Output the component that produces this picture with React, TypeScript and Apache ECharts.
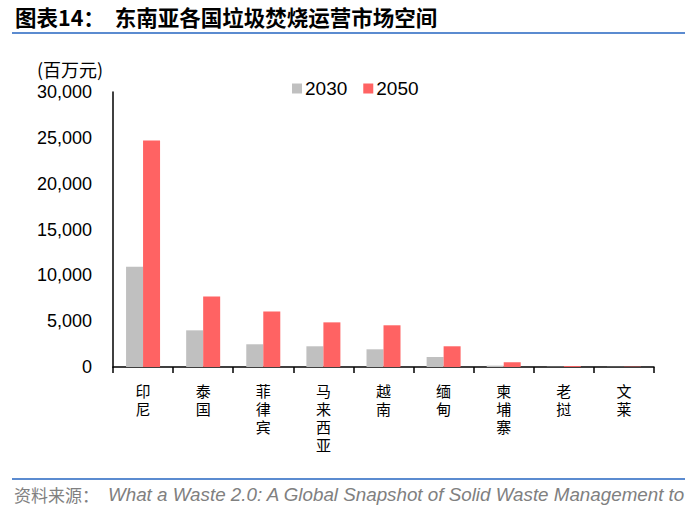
import React, { useEffect, useRef } from "react";
import * as echarts from "echarts";

const categories = ["印尼", "泰国", "菲律宾", "马来西亚", "越南", "缅甸", "柬埔寨", "老挝", "文莱"];
const series2030 = [10950, 4000, 2480, 2260, 1930, 1090, 150, 30, 20];
const series2050 = [24700, 7700, 6050, 4870, 4550, 2260, 510, 100, 40];
const yTicks = { min: 0, max: 30000, interval: 5000 };
const titleText = "图表14：  东南亚各国垃圾焚烧运营市场空间";
const unitText = "(百万元)";
const sourceLabel = "资料来源：";
const sourceText = "What a Waste 2.0: A Global Snapshot of Solid Waste Management to";

export default function App() {
  const ref = useRef<HTMLDivElement>(null);
  useEffect(() => {
    if (!ref.current) return;
    const chart = echarts.init(ref.current, undefined, { renderer: "svg" });
    const cjk = "'Noto Sans CJK SC', sans-serif";
    const latin = "'Liberation Sans', Arial, sans-serif";
    chart.setOption({
      animation: false,
      backgroundColor: "#ffffff",
      grid: { left: 113, right: 46, top: 92, bottom: 147, containLabel: false },
      legend: {
        left: 287,
        top: 74,
        itemWidth: 10,
        itemHeight: 10,
        itemGap: 16,
        icon: "rect",
        textStyle: { fontSize: 19, color: "#000", fontFamily: latin, padding: [0, 0, 0, -2] },
        data: ["2030", "2050"],
      },
      xAxis: {
        type: "category",
        data: categories,
        axisLine: { lineStyle: { color: "#000", width: 1.5 } },
        axisTick: { show: true, length: 6, alignWithLabel: false, lineStyle: { color: "#000", width: 1.5 } },
        axisLabel: {
          fontSize: 15,
          lineHeight: 18,
          color: "#000",
          fontFamily: cjk,
          margin: 14,
          verticalAlign: "top",
          interval: 0,
          formatter: (v: string) => v.split("").join("\n"),
        },
      },
      yAxis: {
        type: "value",
        min: yTicks.min,
        max: yTicks.max,
        interval: yTicks.interval,
        splitLine: { show: false },
        axisLine: { show: true, lineStyle: { color: "#000", width: 1.5 } },
        axisTick: { show: false },
        axisLabel: {
          fontSize: 18,
          color: "#000",
          fontFamily: latin,
          margin: 21,
          formatter: (v: number) => v.toLocaleString("en-US"),
        },
      },
      series: [
        {
          name: "2030",
          type: "bar",
          data: series2030,
          barWidth: 17,
          barGap: "0%",
          itemStyle: { color: "#c0c0c0" },
        },
        {
          name: "2050",
          type: "bar",
          data: series2050,
          barWidth: 17,
          barGap: "0%",
          itemStyle: { color: "#ff6363" },
        },
      ],
      graphic: [
        {
          type: "text",
          left: 15,
          top: 6,
          style: { text: titleText, fontSize: 21.5, fontWeight: "bold", fill: "#000", fontFamily: cjk },
        },
        {
          type: "rect",
          shape: { x: 12, y: 32, width: 673, height: 2 },
          style: { fill: "#5b8bd0" },
        },
        {
          type: "text",
          left: 37,
          top: 60,
          style: { text: unitText, fontSize: 18, fill: "#000", fontFamily: cjk },
        },
        {
          type: "rect",
          shape: { x: 12, y: 478, width: 673, height: 2 },
          style: { fill: "#5b8bd0" },
        },
        {
          type: "text",
          left: 14,
          top: 486,
          style: { text: sourceLabel, fontSize: 17, fill: "#808080", fontFamily: cjk },
        },
        {
          type: "text",
          left: 108,
          top: 485,
          style: { text: sourceText, fontSize: 18.8, fontStyle: "italic", fill: "#808080", fontFamily: latin },
        },
      ],
    });
    return () => chart.dispose();
  }, []);
  return <div ref={ref} style={{ position: "fixed", left: 0, top: 0, width: 700, height: 514 }} />;
}
